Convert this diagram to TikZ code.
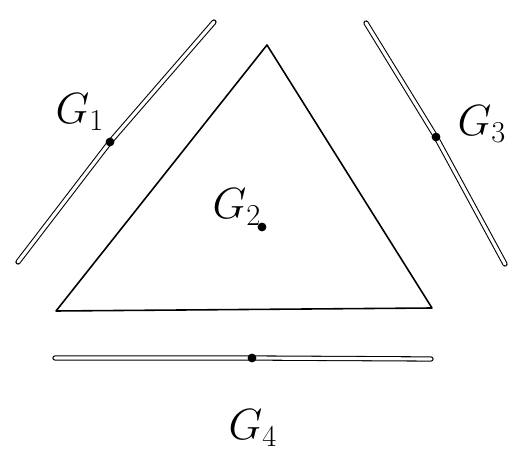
\documentclass[tikz,border=0pt]{standalone}
\usepackage{amsmath}
\usepackage{tikz}
\usetikzlibrary{positioning,calc}

\begin{document}
\begin{tikzpicture}[
  x=0.02cm, y=-0.02cm,
  rod/.style={draw=black, line width=0.6pt, double=white, double distance=1.8pt, line cap=round, line join=round},
  side/.style={draw=black, line width=0.9pt, line join=round},
  pin/.style={circle, fill=black, inner sep=0pt, minimum size=5pt},
  lbl/.style={font=\fontsize{27}{30}\selectfont, inner sep=0pt}
]
\useasboundingbox (0,0) rectangle (520,465);

% the triangle
\coordinate (apex) at (267,45);
\coordinate (lcorner) at (56,311);
\coordinate (rcorner) at (432,308);
\draw[side] (apex) -- (lcorner) -- (rcorner) -- cycle;

% the three rods, each with its centre
\coordinate (l1) at (18,262);
\coordinate (l2) at (214,22);
\coordinate (r1) at (366,23);
\coordinate (r2) at (505,264);
\coordinate (b1) at (55,358);
\coordinate (b2) at (431,359);
\coordinate (c1) at (110,142);
\coordinate (c3) at (436,137);
\coordinate (c4) at (252,358);
\draw[rod] (l1) -- (c1) -- (l2);
\draw[rod] (r1) -- (c3) -- (r2);
\draw[rod] (b1) -- (c4) -- (b2);
\node[pin] (d1) at (c1) {};
\node[pin] (d3) at (c3) {};
\node[pin] (d4) at (c4) {};
\node[pin] (d2) at (262,227) {};

\node[lbl] (g1) at (80,112) {$G_1$};
\node[lbl] (g2) at (237,207) {$G_2$};
\node[lbl] (g3) at (482,124) {$G_3$};
\node[lbl] (g4) at (253,428) {$G_4$};
\end{tikzpicture}
\end{document}
